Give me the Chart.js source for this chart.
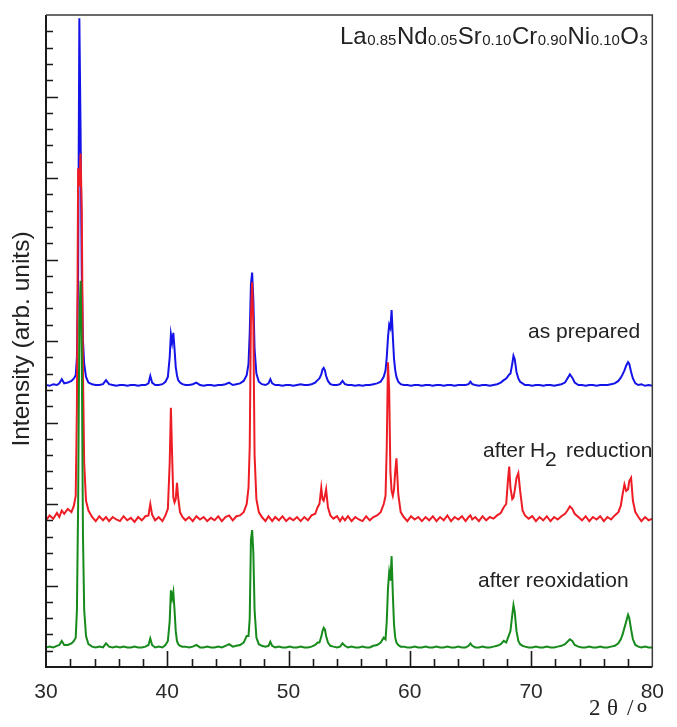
<!DOCTYPE html>
<html>
<head>
<meta charset="utf-8">
<script src="https://cdn.jsdelivr.net/npm/chart.js@4/dist/chart.umd.min.js"></script>
<style>
  body { margin: 0; background: #fff; }
</style>
</head>
<body>
<canvas id="xrd" width="677" height="727"></canvas>
<script>
'use strict'

// 2 theta grid (degrees), denser around the reflections
var twoTheta = [
  30.0, 30.3, 30.6, 30.9, 31.1, 31.3, 31.5, 31.8, 32.1, 32.3,
  32.45, 32.55, 32.65, 32.75, 32.85, 32.95, 33.05, 33.15, 33.3, 33.5,
  33.8, 34.1, 34.4, 34.7, 34.95, 35.2, 35.5, 35.8, 36.1, 36.4, 36.7, 37.0, 37.3, 37.6, 37.9, 38.2, 38.45, 38.6, 38.75, 39.0, 39.3, 39.6, 39.85,
  40.05, 40.2, 40.3, 40.4, 40.5, 40.6, 40.7, 40.8, 40.9, 41.05, 41.25,
  41.5, 41.8, 42.1, 42.4, 42.7, 43.0, 43.3, 43.6, 43.9, 44.2, 44.5, 44.8, 45.1, 45.4, 45.7, 46.0, 46.3, 46.55,
  46.7, 46.8, 46.9, 47.0, 47.1, 47.2, 47.35, 47.55,
  47.8, 48.1, 48.35, 48.5, 48.65, 48.9, 49.2, 49.5, 49.8, 50.1, 50.4, 50.7, 51.0, 51.3, 51.6, 51.9, 52.2, 52.4,
  52.55, 52.7, 52.8, 52.9, 53.0, 53.1, 53.25, 53.45,
  53.7, 54.0, 54.25, 54.45, 54.65, 54.9, 55.2, 55.5, 55.8, 56.1, 56.4, 56.7, 57.0, 57.3, 57.6, 57.85,
  58.0, 58.1, 58.2, 58.3, 58.4, 58.5, 58.6, 58.7, 58.8, 58.9, 59.05, 59.25,
  59.5, 59.8, 60.1, 60.4, 60.7, 61.0, 61.3, 61.6, 61.9, 62.2, 62.5, 62.8, 63.1, 63.4, 63.7, 64.0, 64.3, 64.6, 64.85, 65.0, 65.15, 65.4, 65.7, 66.0, 66.3, 66.6, 66.9, 67.2, 67.5, 67.75,
  67.95, 68.1, 68.2, 68.3, 68.45, 68.55, 68.65, 68.8, 68.95, 69.1, 69.3, 69.5,
  69.8, 70.1, 70.4, 70.7, 71.0, 71.3, 71.6, 71.9, 72.2, 72.5, 72.8,
  73.0, 73.2, 73.4, 73.6,
  73.9, 74.2, 74.5, 74.8, 75.1, 75.4, 75.7, 76.0, 76.3, 76.6, 76.9, 77.2, 77.4,
  77.55, 77.7, 77.85, 78.0, 78.1, 78.25, 78.4, 78.6,
  78.85, 79.1, 79.4, 79.7, 80.0
]

// intensities (arb. units, already offset like in the figure)
var asPrepared = [
  17.3, 17.25, 17.35, 17.3, 17.4, 17.65, 17.4, 17.45, 17.55, 17.7,
  17.9, 19.0, 24.0, 39.8, 33.0, 24.0, 20.0, 18.6, 17.8, 17.45,
  17.35, 17.3, 17.3, 17.35, 17.6, 17.35, 17.3, 17.25, 17.3, 17.3, 17.25, 17.3, 17.3, 17.25, 17.3, 17.3, 17.4, 17.85, 17.45, 17.3, 17.3, 17.35, 17.5,
  17.8, 19.0, 20.4, 19.9, 20.5, 19.5, 18.4, 17.9, 17.6, 17.45, 17.35,
  17.3, 17.3, 17.35, 17.45, 17.3, 17.25, 17.3, 17.3, 17.25, 17.3, 17.3, 17.35, 17.45, 17.3, 17.35, 17.4, 17.55, 17.9,
  18.6, 20.5, 23.5, 24.2, 22.5, 19.5, 18.0, 17.5,
  17.35, 17.3, 17.4, 17.65, 17.4, 17.3, 17.3, 17.25, 17.3, 17.3, 17.25, 17.3, 17.35, 17.3, 17.3, 17.35, 17.45, 17.6,
  17.7, 17.95, 18.25, 18.35, 18.2, 17.85, 17.55, 17.35,
  17.3, 17.3, 17.35, 17.55, 17.35, 17.3, 17.3, 17.25, 17.3, 17.25, 17.3, 17.3, 17.35, 17.4, 17.5, 17.8,
  18.2, 19.0, 20.2, 21.0, 20.8, 21.9, 20.3, 18.9, 18.2, 17.8, 17.5, 17.35,
  17.3, 17.3, 17.25, 17.3, 17.3, 17.25, 17.3, 17.3, 17.25, 17.3, 17.3, 17.25, 17.3, 17.3, 17.25, 17.3, 17.3, 17.3, 17.35, 17.5, 17.35, 17.3, 17.25, 17.3, 17.3, 17.25, 17.3, 17.35, 17.45, 17.6,
  17.7, 17.85, 17.95, 18.0, 18.6, 19.1, 18.9, 18.1, 17.7, 17.5, 17.4, 17.3,
  17.3, 17.25, 17.3, 17.3, 17.25, 17.3, 17.3, 17.25, 17.3, 17.35, 17.45,
  17.7, 17.95, 17.75, 17.45,
  17.3, 17.3, 17.25, 17.3, 17.3, 17.25, 17.3, 17.3, 17.3, 17.35, 17.4, 17.55, 17.75,
  17.95, 18.2, 18.5, 18.7, 18.6, 18.1, 17.7, 17.4,
  17.3, 17.35, 17.25, 17.3, 17.25
]

var afterReduction = [
  9.0, 9.3, 9.1, 9.45, 9.2, 9.6, 9.4, 9.7, 9.5, 9.9,
  10.5, 16.0, 30.6, 29.5, 31.5, 28.0, 18.0, 12.5, 10.2, 9.6,
  9.2, 8.95, 9.25, 9.0, 9.2, 8.95, 9.2, 9.05, 8.95, 9.25, 9.0, 9.15, 8.9, 9.2, 9.0, 9.25, 9.3, 10.0, 9.35, 9.0, 9.2, 8.95, 9.3,
  9.7, 12.5, 15.9, 13.0, 10.4, 10.1, 10.3, 11.3, 10.4, 9.5, 9.2,
  9.0, 9.2, 8.95, 9.25, 9.05, 9.2, 8.95, 9.15, 9.0, 9.25, 8.95, 9.2, 9.3, 9.0, 9.25, 9.3, 9.5, 10.0,
  11.0, 13.5, 21.5, 23.6, 21.0, 13.0, 10.3, 9.5,
  9.2, 8.95, 9.25, 9.1, 8.95, 9.2, 9.0, 9.25, 8.95, 9.15, 9.0, 9.2, 8.95, 9.2, 9.0, 9.3, 9.4, 9.8,
  10.0, 11.0, 10.3, 10.2, 10.5, 10.9, 9.8, 9.3,
  9.1, 9.25, 8.95, 9.2, 9.0, 9.25, 8.95, 9.2, 9.05, 8.95, 9.25, 9.0, 9.2, 9.3, 9.5, 10.0,
  10.5, 13.5, 18.7, 17.0, 12.0, 10.8, 10.5, 10.9, 12.0, 12.8, 10.6, 9.5,
  9.2, 8.95, 9.25, 9.05, 9.2, 8.95, 9.2, 9.0, 9.25, 8.95, 9.2, 9.0, 9.3, 8.95, 9.2, 9.05, 9.25, 8.95, 9.2, 9.3, 9.05, 9.2, 8.95, 9.25, 9.0, 9.2, 9.1, 9.3, 9.45, 9.8,
  10.0, 11.5, 12.3, 11.0, 10.3, 10.4, 10.8, 11.6, 11.9, 10.8, 9.6, 9.3,
  9.1, 9.25, 8.95, 9.2, 9.0, 9.25, 8.95, 9.2, 9.05, 9.25, 9.4,
  9.6, 9.85, 9.7, 9.4,
  9.2, 9.0, 9.25, 8.95, 9.2, 9.05, 9.25, 8.95, 9.2, 9.05, 9.3, 9.5, 9.9,
  10.6, 11.2, 10.8, 10.9, 11.4, 11.6, 10.2, 9.5,
  9.2, 8.95, 9.2, 9.0, 9.1
]

var afterReoxidation = [
  1.2, 1.25, 1.2, 1.3, 1.35, 1.6, 1.35, 1.35, 1.45, 1.6,
  1.8, 3.5, 10.0, 21.0, 23.7, 19.0, 8.0, 3.5, 1.9, 1.4,
  1.25, 1.2, 1.25, 1.2, 1.45, 1.25, 1.2, 1.25, 1.2, 1.25, 1.2, 1.2, 1.25, 1.2, 1.2, 1.25, 1.35, 1.75, 1.35, 1.2, 1.25, 1.2, 1.35,
  1.6, 2.8, 4.7, 4.2, 4.6, 3.5, 2.2, 1.6, 1.4, 1.3, 1.25,
  1.25, 1.2, 1.25, 1.35, 1.2, 1.2, 1.25, 1.2, 1.2, 1.25, 1.2, 1.3, 1.4, 1.25, 1.3, 1.35, 1.5, 1.9,
  1.9, 3.0, 7.8, 8.4, 7.0, 3.5, 1.8, 1.4,
  1.3, 1.25, 1.3, 1.55, 1.3, 1.2, 1.25, 1.2, 1.2, 1.25, 1.2, 1.2, 1.25, 1.2, 1.2, 1.25, 1.35, 1.5,
  1.5, 1.85, 2.2, 2.4, 2.3, 1.9, 1.5, 1.3,
  1.25, 1.2, 1.25, 1.45, 1.3, 1.2, 1.25, 1.2, 1.2, 1.25, 1.2, 1.2, 1.3, 1.35, 1.5, 1.8,
  1.7, 2.8, 4.8, 5.8, 5.3, 6.8, 4.5, 2.6, 1.8, 1.5, 1.35, 1.25,
  1.25, 1.2, 1.2, 1.25, 1.2, 1.2, 1.25, 1.2, 1.2, 1.25, 1.2, 1.2, 1.25, 1.2, 1.2, 1.25, 1.2, 1.2, 1.3, 1.45, 1.3, 1.2, 1.2, 1.25, 1.2, 1.2, 1.25, 1.3, 1.4, 1.6,
  1.5, 1.8, 2.0, 2.2, 3.2, 3.8, 3.4, 2.2, 1.6, 1.4, 1.3, 1.25,
  1.2, 1.2, 1.25, 1.2, 1.2, 1.25, 1.2, 1.2, 1.25, 1.3, 1.4,
  1.55, 1.7, 1.6, 1.35,
  1.25, 1.2, 1.2, 1.25, 1.2, 1.2, 1.25, 1.2, 1.2, 1.25, 1.3, 1.45, 1.7,
  2.0, 2.4, 2.8, 3.2, 3.0, 2.3, 1.7, 1.35,
  1.25, 1.2, 1.25, 1.2, 1.2
]

var xTicks = [30, 40, 50, 60, 70, 80]
var yTitle = "Intensity (arb. units)"
// formula pieces: [text, isSubscript]
var formula = [["La", 0], ["0.85", 1], ["Nd", 0], ["0.05", 1], ["Sr", 0], ["0.10", 1], ["Cr", 0], ["0.90", 1], ["Ni", 0], ["0.10", 1], ["O", 0], ["3", 1]]

var sans = "'Liberation Sans', Arial, sans-serif"
var serif = "'Liberation Serif', 'Times New Roman', serif"

function toPoints(values){
    var pts = []
    for(let i = 0; i < twoTheta.length; i++){
        pts.push({x: twoTheta[i], y: values[i]})
    }
    return pts
}

// inward tick marks, frame and all the text
var decorations = {
    id: "decorations",
    afterDraw: function(chart){
        var ctx = chart.ctx
        var a = chart.chartArea
        var x = chart.scales.x
        var y = chart.scales.y
        ctx.save()

        ctx.strokeStyle = "#1a1a1a"
        ctx.lineWidth = 1.6
        ctx.beginPath()
        for(let v = 1; v < 40; v++){
            var py = Math.round(y.getPixelForValue(v)) + 0.5
            var len = v % 5 === 0 ? 12 : 7
            ctx.moveTo(a.left, py)
            ctx.lineTo(a.left + len, py)
        }
        for(let v = 32; v < 80; v += 2){
            var px = Math.round(x.getPixelForValue(v)) + 0.5
            var tl = v % 10 === 0 ? 16 : 8
            ctx.moveTo(px, a.bottom)
            ctx.lineTo(px, a.bottom - tl)
        }
        ctx.stroke()

        // left + bottom axes
        ctx.lineWidth = 2
        ctx.beginPath()
        ctx.moveTo(a.left, a.top)
        ctx.lineTo(a.left, a.bottom)
        ctx.lineTo(a.right, a.bottom)
        ctx.stroke()
        // top + right border
        ctx.strokeStyle = "#3a3a3a"
        ctx.lineWidth = 1.5
        ctx.beginPath()
        ctx.moveTo(a.left, a.top)
        ctx.lineTo(a.right, a.top)
        ctx.lineTo(a.right, a.bottom)
        ctx.stroke()

        ctx.fillStyle = "#222"
        ctx.textBaseline = "middle"

        // curve labels
        ctx.font = "21px " + sans
        ctx.textAlign = "left"
        ctx.fillText("as prepared", 528, 332)
        ctx.fillText("after", 483, 451)
        ctx.fillText("H", 530, 451)
        ctx.fillText("2", 545, 460)
        ctx.fillText("reduction", 566, 451)
        ctx.fillText("after reoxidation", 478, 581)

        // y title
        ctx.save()
        ctx.translate(22, 339)
        ctx.rotate(-Math.PI / 2)
        ctx.textAlign = "center"
        ctx.font = "24.5px " + sans
        ctx.fillText(yTitle, 0, 0)
        ctx.restore()

        // x title: 2 θ /º
        ctx.font = "23px " + serif
        ctx.fillText("2", 589, 709)
        ctx.fillText("θ", 607, 709)
        ctx.fillText("/", 627, 709)
        ctx.font = "32px " + serif
        ctx.fillText("º", 637, 717)

        // formula
        ctx.textBaseline = "alphabetic"
        var cx = 340
        for(let i = 0; i < formula.length; i++){
            var sub = formula[i][1] === 1
            ctx.font = (sub ? "15px " : "24px ") + sans
            ctx.fillText(formula[i][0], cx, sub ? 45 : 43.5)
            cx += ctx.measureText(formula[i][0]).width + 0.5
        }
        ctx.restore()
    }
}

new Chart(document.getElementById("xrd"), {
    type: "line",
    data: {
        datasets: [{
            label: "as prepared",
            data: toPoints(asPrepared),
            borderColor: "#1414e8",
            order: 3
        }, {
            label: "after H2 reduction",
            data: toPoints(afterReduction),
            borderColor: "#ee1c24",
            order: 2
        }, {
            label: "after reoxidation",
            data: toPoints(afterReoxidation),
            borderColor: "#178a1c",
            order: 1
        }]
    },
    options: {
        responsive: false,
        animation: false,
        layout: {padding: {left: 46, right: 15, top: 15, bottom: 0}},
        elements: {
            line: {borderWidth: 2, tension: 0},
            point: {radius: 0}
        },
        plugins: {legend: {display: false}, tooltip: {enabled: false}},
        scales: {
            x: {
                type: "linear",
                min: 30,
                max: 80,
                afterBuildTicks: function(scale){
                    scale.ticks = xTicks.map(function(v){ return {value: v} })
                },
                afterFit: function(scale){ scale.height = 60 },
                grid: {display: false, drawTicks: false},
                border: {display: false},
                ticks: {
                    padding: 13,
                    color: "#2a2a2a",
                    font: {family: sans, size: 21}
                }
            },
            y: {
                display: false,
                min: 0,
                max: 40
            }
        }
    },
    plugins: [decorations]
})
</script>
</body>
</html>
